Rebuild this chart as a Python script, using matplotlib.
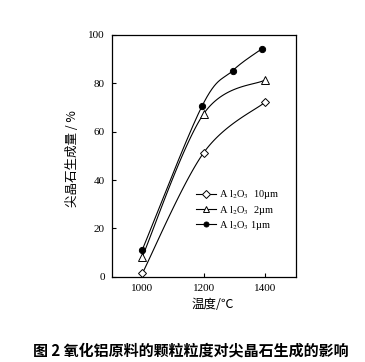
import matplotlib
matplotlib.use("Agg")
import matplotlib.pyplot as plt
import numpy as np

# data
temp_10um = [1000, 1200, 1400]
yield_10um = [1.4, 51.3, 72.2]
temp_2um = [1000, 1200, 1400]
yield_2um = [8.3, 67.4, 81.4]
temp_1um = [1000, 1195, 1295, 1390]
yield_1um = [11.2, 70.7, 85.3, 94.3]

labels = ["A l$_2$O$_3$  10\u00b5m", "A l$_2$O$_3$  2\u00b5m", "A l$_2$O$_3$ 1\u00b5m"]
xticks = [1000, 1200, 1400]
yticks = [0, 20, 40, 60, 80, 100]

plt.rcParams['font.family'] = ['Liberation Serif', 'DejaVu Serif']
plt.rcParams['mathtext.fontset'] = 'stix'

fig = plt.figure(figsize=(3.65, 3.62), dpi=100)
ax = fig.add_axes([111.7 / 365, 1 - 276.7 / 362, 184 / 365, 241.7 / 362])


def smooth(x, y, n=60):
    # spreadsheet-style smoothed line: cubic bezier pieces through the points
    p = np.column_stack([x, y]).astype(float)
    out = []
    t = np.linspace(0, 1, n)[:, None]
    for i in range(len(p) - 1):
        p_prev = p[i - 1] if i > 0 else p[i]
        p_next = p[i + 2] if i + 2 < len(p) else p[i + 1]
        c1 = p[i] + (p[i + 1] - p_prev) / 6
        c2 = p[i + 1] - (p_next - p[i]) / 6
        seg = ((1 - t) ** 3) * p[i] + 3 * ((1 - t) ** 2) * t * c1 \
            + 3 * (1 - t) * t ** 2 * c2 + t ** 3 * p[i + 1]
        out.append(seg)
    out = np.vstack(out)
    return out[:, 0], out[:, 1]


series = [
    (temp_10um, yield_10um, 'D', 'white', 4.5, 3.8),
    (temp_2um, yield_2um, '^', 'white', 6, 4.8),
    (temp_1um, yield_1um, 'o', 'black', 4.5, 3.6),
]
for (x, y, m, fc, ms, ms_leg), lab in zip(series, labels):
    xs, ys = smooth(x, y)
    ax.plot(xs, ys, color='black', lw=0.8)
    ax.plot(x, y, linestyle='none', marker=m, ms=ms, mfc=fc, mec='black', mew=0.7)
    ax.plot([], [], color='black', lw=0.8, marker=m, ms=ms_leg, mfc=fc, mec='black', mew=0.7,
            label=lab)

ax.set_xlim(900, 1500)
ax.set_ylim(0, 100)
ax.set_xticks(xticks)
ax.set_yticks(yticks)
ax.tick_params(direction='in', length=3, width=0.8, labelsize=8, pad=5)
for s in ax.spines.values():
    s.set_linewidth(0.9)

ax.legend(loc='upper left', bbox_to_anchor=(0.46, 0.365), frameon=False, fontsize=7.5,
          handlelength=1.9, handletextpad=0.3, labelspacing=0.22, borderaxespad=0,
          borderpad=0)

cjk = ['Noto Sans CJK SC', 'DejaVu Sans']
fig.text(73 / 365, 1 - 159 / 362, "尖晶石生成量 / %", family=cjk, fontsize=9,
         rotation=90, ha='center', va='center')
fig.text(213 / 365, 1 - 305 / 362, "温度/℃", family=cjk, fontsize=9, ha='center', va='center')
fig.text(191 / 365, 1 - 351 / 362, "图 2 氧化铝原料的颗粒粒度对尖晶石生成的影响", family=cjk,
         fontsize=10.8, fontweight='bold', ha='center', va='center')

fig.savefig("out.png", dpi=100)
